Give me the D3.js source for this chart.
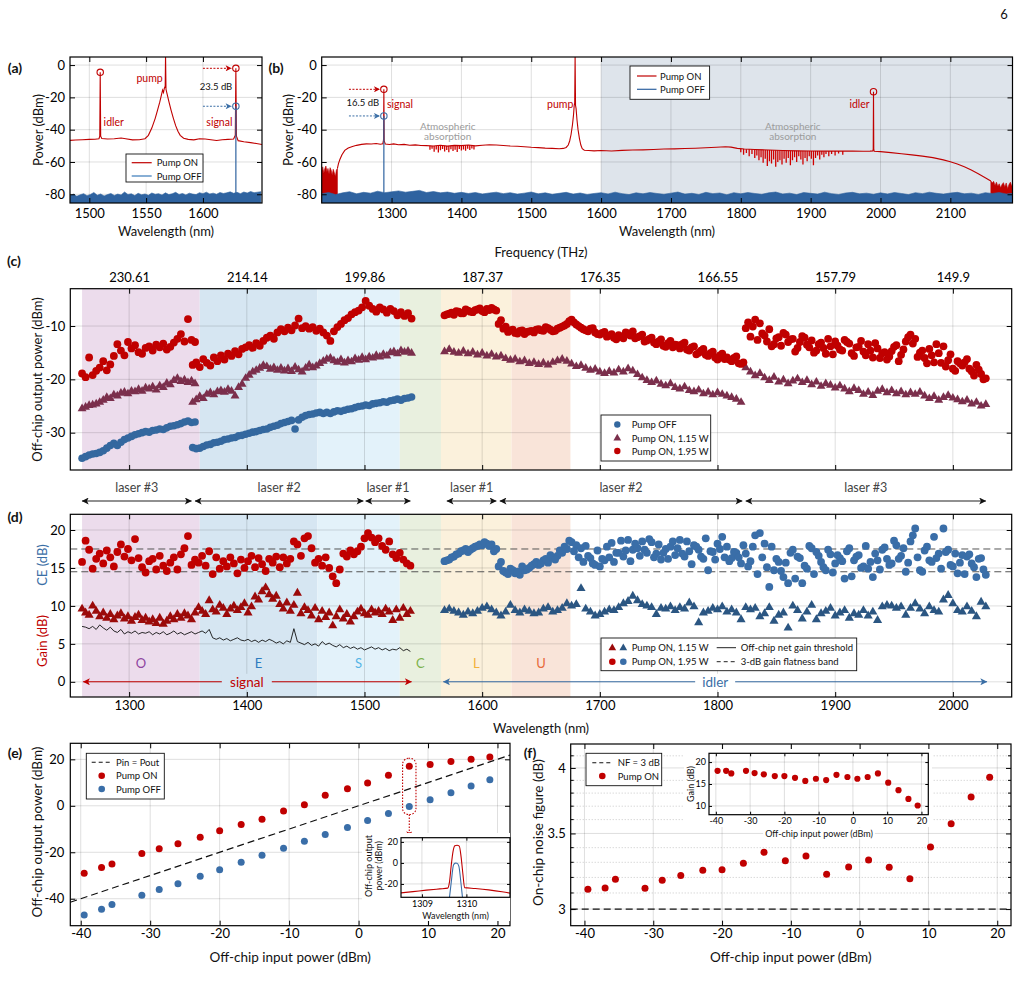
<!DOCTYPE html>
<html>
<head>
<meta charset="utf-8">
<script src="https://cdn.jsdelivr.net/npm/d3@7"></script>
<style>
  body { margin: 0; background: #fff; }
</style>
</head>
<body>
<script>
// ---------------- data ----------------
// (a) spectrum, pump ON [wavelength nm, dBm]
var specA_on = [[1483,-46.6],[1488,-46.4],[1494,-46.2],[1500,-46.0],[1505,-45.9],[1508.5,-45.6],[1509.2,-44.0],[1509.6,-4.5],[1510,-44.0],[1511,-45.5],[1516,-45.8],[1522,-45.6],[1528,-45.2],[1532,-45.6],[1538,-46.3],[1544,-46.2],[1549,-45.6],[1552,-43.5],[1555,-39],[1558,-33],[1560,-28],[1562,-23],[1563.5,-18.5],[1564.5,-15.5],[1565.3,-17],[1566,-14.5],[1566.8,-13],[1567.1,6],[1567.5,-15],[1568.5,-18],[1570,-22.5],[1572,-28],[1574,-33],[1576,-37.5],[1578,-41],[1580,-43.5],[1583,-45.3],[1587,-46],[1592,-46.3],[1597,-45.6],[1602,-45.8],[1607,-46.2],[1612,-46.7],[1617,-46.2],[1622,-46.0],[1627,-45.8],[1628.5,-43.5],[1629,-2],[1629.5,-44],[1631,-46.8],[1636,-47.5],[1642,-48.0],[1647,-48.6],[1652,-49.2]];
// (a) pump OFF noise floor, sampled every 3 nm from 1483 nm
var noiseA = [-80.8,-79.9,-81.2,-80.3,-79.6,-80.9,-80.1,-78.9,-80.6,-79.8,
  -81.0,-80.2,-79.5,-80.7,-79.9,-80.4,-78.6,-80.1,-79.7,-80.8,
  -79.4,-80.3,-79.8,-80.6,-79.2,-80.0,-79.6,-80.5,-79.1,-80.2,
  -79.7,-78.8,-80.1,-79.5,-80.4,-79.3,-79.9,-80.2,-79.0,-79.6,
  -78.7,-79.8,-79.3,-80.0,-78.9,-79.5,-79.1,-78.5,-79.4,-78.8,
  -79.6,-78.6,-79.2,-78.3,-79.0,-78.7,-78.4];
var noiseA_wl = d3.range(1483, 1653, 3);
var peaksA_on = [[1509.6, -4.5], [1629, -2]];
var peakA_off = [1629, -25.5];

// (b) spectrum, pump ON
var specB_on = [[1222.5,-64],[1224,-61],[1226,-58.5],[1229,-55.5],[1233,-52.8],[1238,-51.3],[1244,-50.4],[1250,-49.7],[1257,-49.1],[1264,-48.8],[1271,-48.9],[1278,-48.6],[1284,-49.0],[1287.5,-48.7],[1288.5,-46.5],[1289,-15],[1289.5,-47],[1291,-48.9],[1297,-49.2],[1303,-48.8],[1310,-49.3],[1318,-49.1],[1326,-49.6],[1334,-49.4],[1342,-49.8],[1350,-49.9],[1360,-50.1],[1370,-49.6],[1380,-50.2],[1390,-49.7],[1400,-49.9],[1410,-49.5],[1420,-50.0],[1430,-49.6],[1440,-49.3],[1450,-49.5],[1460,-49.8],[1470,-50.1],[1480,-50.3],[1490,-50.6],[1500,-50.9],[1510,-51.1],[1520,-51.4],[1530,-51.6],[1540,-51.8],[1546,-51.6],[1550,-51.0],[1553,-49.5],[1555,-47],[1557,-43],[1559,-37],[1560.5,-31],[1561.5,-25],[1562.2,-23.5],[1562.8,6],[1563.4,-25],[1564.2,-27],[1565.5,-34],[1567,-40],[1569,-45.5],[1571,-49.5],[1573,-51.8],[1576,-52.7],[1582,-52.9],[1590,-53.1],[1600,-52.9],[1615,-53.2],[1630,-52.8],[1645,-52.6],[1660,-52.5],[1675,-52.3],[1690,-52.0],[1705,-51.9],[1720,-51.7],[1735,-51.5],[1750,-51.2],[1765,-50.9],[1778,-50.6],[1786,-50.8],[1795,-51.6],[1805,-52.0],[1820,-52.3],[1840,-52.6],[1860,-52.9],[1880,-53.1],[1900,-53.2],[1920,-53.3],[1940,-53.2],[1960,-53.3],[1975,-53.4],[1985,-53.3],[1989,-53.2],[1989.6,-52],[1990,-16.5],[1990.4,-52],[1991,-53.4],[2000,-53.6],[2015,-54.2],[2030,-54.9],[2045,-55.6],[2060,-56.4],[2075,-57.3],[2090,-58.7],[2100,-59.8],[2110,-61.2],[2120,-63.0],[2130,-65.0],[2140,-67.3],[2150,-69.8],[2158,-71.8]];
// absorption fringes [wavelength, lowest dBm]
var dipsB = [[1355,-52.5],[1358,-51.8],[1361,-53.6],[1364,-52.2],[1367,-54.2],[1370,-52.8],[1373,-51.9],[1376,-53.5],[1379,-52.6],[1382,-53.9],[1385,-52.1],[1388,-53.2],[1391,-52.4],[1394,-53.8],[1397,-51.9],[1400,-52.9],[1403,-52.3],[1406,-53.1],[1409,-51.8],[1412,-52.6],[1415,-51.7],[1418,-52.2],
  [1800,-54],[1804,-55.5],[1808,-54.5],[1812,-56.5],[1816,-55],[1820,-57.5],[1823,-56],[1826,-59],[1829,-57],[1832,-60.5],[1835,-58],[1838,-62.5],[1841,-59.5],[1844,-61],[1847,-58.5],[1850,-63],[1853,-60],[1856,-59],[1859,-61.5],[1862,-58],[1865,-60.5],[1868,-57.5],[1871,-62],[1874,-59],[1877,-57],[1880,-60],[1883,-56.5],[1886,-58.5],[1889,-61.5],[1892,-57.5],[1895,-59.5],[1898,-56.5],[1901,-58],[1904,-62],[1907,-57.5],[1910,-56],[1913,-58.5],[1916,-55.5],[1919,-57],[1922,-55],[1926,-56.5],[1930,-55],[1935,-56],[1940,-54.8],[1946,-55.5]];
var redNoiseL = [[1200,-66],[1201.5,-63],[1203,-67],[1204.5,-64],[1206,-62.5],[1207.5,-66],[1209,-64],[1210.5,-67.5],[1212,-63.5],[1213.5,-65],[1215,-68],[1216.5,-64.5],[1218,-66.5],[1219.5,-69],[1221,-65],[1222.5,-64]];
var redNoiseR = [[2158,-71.8],[2160,-73],[2162,-72],[2164,-74.5],[2166,-72.5],[2168,-75],[2170,-73.5],[2172,-76],[2174,-74],[2176,-72.8],[2178,-75.5],[2180,-73],[2182,-76.5],[2184,-74],[2186,-72.5],[2188,-75],[2190,-73.5]];
// (b) pump OFF noise floor, every 10 nm from 1200 nm
var noiseB = [-79.6,-78.9,-80.2,-79.1,-78.4,-79.7,-78.8,-79.3,-78.1,-79.0,
  -78.5,-77.9,-78.7,-78.2,-77.6,-78.9,-78.3,-79.1,-78.6,-79.4,
  -78.8,-79.5,-78.9,-79.8,-79.2,-78.7,-79.6,-79.0,-79.9,-79.3,
  -78.6,-79.7,-79.1,-80.0,-79.4,-78.8,-79.9,-79.2,-80.1,-79.5,
  -79.0,-79.8,-78.7,-79.6,-80.2,-79.1,-79.7,-78.9,-79.5,-80.0,
  -79.3,-78.6,-79.9,-79.4,-80.1,-78.8,-79.6,-79.2,-80.3,-79.0,
  -79.7,-78.9,-79.5,-80.0,-79.1,-78.6,-79.8,-79.3,-80.2,-78.9,
  -79.4,-79.9,-78.7,-79.6,-80.1,-79.2,-78.8,-79.7,-79.3,-80.0,
  -79.1,-79.8,-78.9,-79.5,-80.2,-79.0,-79.6,-78.7,-79.4,-79.9,
  -79.2,-78.8,-79.7,-79.3,-80.1,-79.0,-79.5,-78.9,-79.8,-79.4];
var noiseB_wl = d3.range(1200, 2191, 10);
var peaksB_on = [[1289, -15], [1990, -16.5]];
var peakB_off = [1289, -31.5];

// (c)/(d) shared axis
var wlTicks = [1300, 1400, 1500, 1600, 1700, 1800, 1900, 2000];
var freqLabels = ["230.61", "214.14", "199.86", "187.37", "176.35", "166.55", "157.79", "149.9"];
var bandNames = ["O", "E", "S", "C", "L", "U"];
var bandEdges = [1260, 1360, 1460, 1530, 1565, 1625, 1675];
var laserNames = ["laser #3", "laser #2", "laser #1", "laser #1", "laser #2", "laser #3"];
var laserSpans = [[1260,1353],[1356,1499],[1501,1539],[1570,1612],[1615,1821],[1824,2028]];

// wavelength sampling grids
var sigWl1 = d3.range(1260, 1357, 3);
var sigWl2 = d3.range(1354, 1541, 3);
var sigWlD = d3.range(1260, 1540, 3);
var idlWl = d3.range(1568, 2029, 4);
var idlWlB = d3.range(1570, 2029, 4);

// (c) off-chip output power (dBm)
var cOff1 = [-34.8,-34.5,-34.2,-34.0,-33.9,-33.7,-33.4,-32.9,-32.4,-32.0,-32.4,-31.8,-31.3,-31.0,-30.7,-30.4,-30.2,-30.0,-29.8,-29.9,-29.6,-29.5,-29.3,-29.4,-29.1,-28.8,-28.7,-28.5,-28.3,-28.0,-27.8,-28.1,-28.0];
var cOff2 = [-32.8,-33.0,-32.9,-32.6,-32.3,-32.2,-31.9,-31.8,-31.6,-31.3,
  -31.2,-31.0,-30.9,-30.6,-30.5,-30.3,-30.1,-29.9,-29.8,-29.6,
  -29.4,-29.3,-29.0,-28.8,-28.6,-28.3,-28.1,-27.9,-27.7,-29.3,
  -27.6,-27.1,-26.8,-26.6,-26.5,-26.3,-26.2,-26.4,-26.2,-26.4,
  -26.1,-25.9,-26.0,-25.8,-25.6,-25.5,-25.3,-25.1,-25.0,-24.8,
  -24.9,-24.6,-24.5,-24.4,-24.2,-24.3,-24.0,-23.9,-23.7,-23.9,
  -23.6,-23.5,-23.3];
var cLow1 = [-25.5,-25.2,-24.9,-24.8,-24.6,-24.3,-23.9,-23.4,-23.6,-22.9,
  -23.1,-22.6,-22.4,-22.7,-22.2,-22.3,-21.9,-22.2,-21.6,-21.8,
  -21.4,-22.0,-21.2,-21.5,-20.7,-21.0,-20.2,-19.8,-20.4,-20.1,
  -20.6,-20.3,-20.8];
var cLow2 = [-24.3,-23.8,-23.2,-23.6,-22.8,-22.5,-22.9,-22.3,-22.1,-22.4,
  -21.9,-22.2,-23.1,-21.5,-20.9,-19.8,-19.2,-18.6,-18.3,-17.9,
  -17.4,-17.6,-18.1,-17.8,-18.3,-17.9,-18.4,-18.0,-18.5,-17.7,
  -18.2,-18.6,-17.9,-17.3,-17.8,-17.5,-17.0,-16.6,-16.2,-16.0,
  -16.5,-16.8,-16.3,-16.9,-16.5,-16.7,-16.1,-16.4,-15.9,-16.3,
  -15.8,-16.0,-15.5,-15.8,-15.3,-15.6,-15.0,-14.8,-15.2,-14.6,
  -14.9,-14.7,-15.1];
var cHigh1 = [-18.9,-19.6,-15.9,-19.2,-18.4,-17.8,-16.6,-18.3,-17.2,-15.6,
  -13.4,-14.6,-15.5,-13.0,-14.2,-13.6,-14.9,-15.2,-14.1,-13.8,
  -14.6,-13.5,-14.0,-13.3,-14.4,-13.9,-13.1,-12.4,-11.5,-12.9,
  -8.7,-12.6,-13.0];
var cHigh2 = [-17.3,-16.8,-17.7,-16.2,-16.9,-17.4,-15.9,-16.6,-15.5,-16.3,
  -15.2,-15.6,-14.7,-15.3,-14.3,-14.0,-13.6,-14.1,-13.2,-13.7,
  -12.8,-12.2,-11.8,-12.4,-11.2,-10.6,-11.0,-10.3,-10.8,-9.9,
  -8.6,-10.4,-10.0,-10.5,-10.2,-10.9,-10.5,-11.2,-11.8,-12.8,
  -11.0,-10.2,-9.6,-8.9,-8.5,-7.8,-7.4,-7.1,-6.5,-5.3,
  -6.2,-6.8,-7.3,-6.5,-6.9,-7.5,-6.8,-7.2,-8.0,-7.4,
  -8.1,-7.6,-8.6];
var cLowIdl = [-14.8,-14.4,-14.9,-15.1,-14.7,-15.2,-14.9,-15.4,-15.1,-15.6,
  -15.3,-15.8,-15.6,-16.1,-16.4,-16.2,-16.7,-16.5,-17.0,-16.8,
  -17.2,-16.9,-17.3,-16.8,-16.5,-16.2,-16.6,-17.1,-17.6,-17.4,
  -17.9,-18.3,-18.1,-18.6,-18.9,-18.5,-18.8,-18.2,-18.6,-18.0,
  -18.4,-19.1,-19.7,-20.2,-20.6,-20.3,-20.9,-21.2,-20.8,-21.5,
  -21.8,-21.4,-22.1,-22.3,-22.0,-22.7,-22.4,-22.9,-22.5,-22.8,
  -23.1,-23.4,-23.7,-24.3,-17.8,-18.6,-19.3,-18.9,-19.7,-20.2,
  -19.6,-20.5,-20.1,-20.8,-20.3,-19.9,-20.6,-20.2,-21.0,-20.5,
  -21.3,-20.8,-21.1,-21.6,-21.2,-21.8,-22.3,-21.7,-22.1,-22.8,
  -22.4,-23.0,-22.2,-21.9,-22.5,-22.1,-22.7,-22.3,-22.9,-22.5,
  -22.8,-22.4,-23.1,-23.6,-23.2,-23.9,-23.4,-23.0,-23.5,-23.8,
  -24.2,-23.9,-24.6,-24.3,-25.0,-24.7];
var cHighIdl = [-8.0,-7.7,-7.9,-7.3,-7.6,-7.1,-7.4,-6.9,-7.2,-6.8,
  -6.6,-7.1,-8.9,-10.1,-10.8,-11.3,-10.9,-11.5,-11.0,-11.2,
  -10.6,-10.9,-10.4,-11.0,-10.5,-10.1,-9.6,-8.8,-9.7,-10.3,
  -10.8,-10.5,-11.2,-11.6,-11.1,-11.8,-12.2,-11.7,-12.3,-11.4,
  -11.0,-12.1,-11.6,-12.7,-12.2,-13.4,-12.5,-13.9,-12.8,-13.5,
  -14.2,-13.1,-14.6,-13.8,-15.0,-14.3,-15.6,-14.8,-16.3,-15.2,
  -15.9,-16.6,-15.7,-17.1,-10.4,-12.0,-8.8,-9.5,-11.8,-10.6,
  -13.4,-12.1,-11.3,-13.0,-12.4,-14.1,-11.9,-13.5,-12.7,-14.6,
  -13.1,-15.2,-13.8,-12.9,-14.4,-12.6,-13.3,-15.6,-13.9,-14.8,
  -13.4,-15.9,-14.2,-15.1,-16.3,-14.7,-13.6,-15.4,-12.9,-11.6,
  -12.4,-15.0,-16.0,-14.3,-16.8,-15.1,-13.8,-16.4,-18.0,-16.6,
  -17.4,-16.2,-18.5,-17.3,-19.0,-19.8];
// second interleaved idler sweep (1570 nm onwards, 4 nm step)
var cHighIdlB = [-7.8,-7.5,-7.2,-7.6,-6.9,-7.3,-7.0,-6.7,-7.4,-7.0,
  -6.9,-9.6,-10.5,-11.1,-10.7,-11.4,-10.8,-11.1,-10.9,-10.7,
  -10.8,-10.2,-10.7,-10.9,-10.3,-9.9,-9.1,-9.3,-10.0,-10.6,
  -11.0,-10.4,-11.5,-11.3,-12.0,-11.5,-12.5,-12.0,-11.2,-11.8,
  -12.3,-11.9,-12.9,-12.4,-13.1,-12.9,-13.7,-13.2,-14.0,-13.6,
  -13.4,-14.4,-14.0,-15.3,-14.6,-15.4,-15.1,-15.9,-15.5,-16.2,
  -16.3,-16.0,-17.0,-16.8,-9.3,-10.1,-12.6,-11.4,-12.9,-13.8,
  -12.3,-13.7,-11.6,-12.5,-14.8,-13.0,-12.2,-14.0,-15.0,-13.4,
  -14.1,-12.4,-15.3,-13.7,-14.6,-13.0,-15.1,-14.0,-12.8,-15.5,
  -14.6,-13.2,-16.0,-14.9,-15.7,-13.9,-16.6,-14.4,-12.1,-13.3,
  -15.8,-14.6,-17.0,-15.5,-13.4,-16.9,-17.6,-15.3,-18.4,-17.0,
  -16.8,-18.0,-19.3,-18.2,-20.0];

// (d) CE / gain (dB)
var dSigCE = [15.8,18.6,17.4,14.9,16.2,16.9,15.6,17.3,16.4,15.2,
  17.1,18.1,16.5,17.5,16.0,18.8,16.3,15.1,14.4,15.9,
  16.2,14.8,16.6,15.3,14.6,15.7,16.4,14.8,16.8,17.6,
  19.2,15.4,16.1,15.7,16.6,15.3,17.2,14.2,16.4,14.9,
  15.9,15.2,16.4,15.6,14.3,16.1,15.0,15.9,16.6,15.1,
  16.3,15.5,14.6,16.2,15.7,16.5,15.1,16.4,15.6,16.2,
  18.5,18.1,16.6,18.9,19.2,17.6,15.7,16.2,15.3,16.4,
  15.0,13.9,13.0,14.8,16.9,16.5,17.3,16.8,17.2,17.8,
  18.9,19.6,19.0,18.4,18.9,17.9,17.4,18.5,16.8,16.3,
  17.0,16.1,15.6,15.3];
var dSigGain = [9.6,9.1,8.8,10.0,9.3,8.6,9.1,8.4,8.9,8.2,
  8.7,9.0,8.3,8.6,8.0,8.5,8.8,8.1,8.4,7.9,
  8.2,7.7,8.4,7.6,8.0,8.6,8.2,8.9,8.4,9.0,
  8.7,8.2,9.1,9.8,9.3,8.9,10.7,9.5,9.2,10.1,
  9.7,8.9,9.6,10.0,9.4,9.8,10.3,9.1,9.9,11.2,
  10.8,11.9,12.4,11.5,10.9,11.3,10.2,9.6,10.4,9.3,
  10.1,11.7,9.0,9.8,9.4,8.7,9.7,8.2,9.3,8.5,
  9.1,7.4,8.6,9.5,8.3,8.9,7.9,8.6,9.2,9.6,
  9.0,8.8,9.5,9.1,9.3,8.9,9.6,9.2,8.1,9.5,
  8.4,9.7,8.9,9.3];
var dThreshold = [7.3,7.2,7.0,7.3,6.9,7.5,7.1,6.8,7.2,6.7,
  6.5,6.9,6.3,6.6,6.4,6.7,6.3,6.5,6.4,6.6,
  6.2,6.5,6.3,6.6,6.2,6.4,6.7,6.3,6.5,6.2,
  6.4,6.6,6.3,6.5,6.7,6.4,6.9,5.8,5.6,5.8,
  5.5,5.7,5.4,5.6,5.8,5.5,5.4,5.6,5.3,5.5,
  5.2,5.5,5.3,5.6,5.4,5.1,5.3,5.0,5.4,5.2,
  7.0,5.3,5.1,4.9,5.2,4.8,5.0,4.7,5.3,4.9,
  5.1,4.8,4.6,4.9,4.5,4.7,4.4,4.6,4.3,4.5,
  4.2,4.4,4.6,4.3,4.5,4.2,4.4,4.1,4.3,4.2,
  4.5,4.1,4.3,4.0];
var dIdlCE = [15.9,16.1,16.5,16.9,17.3,17.1,17.6,17.9,18.0,18.2,
  18.1,17.5,15.8,14.4,14.9,14.3,14.1,14.7,15.0,15.5,
  15.4,16.0,15.7,16.3,16.6,17.0,17.5,18.4,18.0,17.6,
  17.9,16.3,15.4,15.2,16.0,16.4,15.8,17.0,16.5,18.7,
  17.4,17.6,18.5,17.0,18.4,16.9,16.1,17.5,17.8,16.7,
  18.7,16.5,17.2,18.0,17.4,16.2,14.7,17.1,18.2,19.1,
  17.8,16.3,17.0,15.6,16.9,15.9,19.3,19.6,18.2,12.5,
  14.7,15.8,13.8,13.0,17.4,16.5,13.0,14.9,17.6,17.1,
  15.8,14.7,16.8,15.6,16.3,13.6,17.6,16.0,16.7,15.2,
  14.9,13.8,16.0,17.4,16.2,15.6,18.0,16.6,14.5,18.5,
  20.2,14.7,17.3,16.0,19.1,16.9,20.2,17.4,15.2,14.3,
  16.7,16.5,15.6,13.8,16.3,14.1];
var dIdlCEB = [16.0,16.4,16.8,17.2,17.5,17.4,17.8,18.1,18.4,17.9,
  17.2,15.2,14.6,14.2,14.7,14.5,15.2,14.8,15.3,15.8,
  15.6,16.2,16.7,16.1,17.3,17.8,18.6,17.2,16.4,15.8,
  16.6,15.6,17.3,16.2,17.8,18.3,17.0,18.6,17.3,15.9,
  18.2,16.6,17.4,18.8,16.4,18.1,17.0,16.2,18.5,17.6,
  16.9,18.5,15.5,17.8,16.5,18.9,17.2,16.1,17.5,16.4,
  15.9,17.1,16.4,18.0,15.2,17.8,14.2,16.4,15.1,17.8,
  16.2,14.6,15.7,17.0,13.6,16.3,15.3,17.9,14.2,16.6,
  15.1,17.4,14.4,16.7,15.9,17.2,13.9,16.5,15.0,17.9,
  15.8,16.9,14.8,17.7,15.4,18.6,16.2,17.6,15.7,19.3,
  16.4,14.5,17.8,15.8,16.3,14.9,17.1,15.4,16.9,15.7,
  14.2,16.8,15.1,16.2,14.8];
var dIdlGain = [9.4,9.6,9.3,9.1,8.8,9.2,9.0,9.3,9.7,9.9,
  9.5,9.1,8.7,9.2,10.1,9.4,9.1,9.5,9.3,9.0,
  9.1,9.6,9.8,9.2,9.4,9.7,10.3,10.0,10.2,12.3,
  9.6,9.2,8.7,8.9,9.2,9.5,9.4,9.8,10.3,10.6,
  11.3,10.7,10.2,10.0,9.8,8.9,9.7,9.6,9.9,9.4,
  9.8,9.6,10.4,9.9,7.8,9.1,9.3,9.7,9.5,9.9,
  9.2,9.5,9.1,8.2,9.8,9.5,9.7,8.6,9.0,9.8,
  8.0,8.8,9.1,7.1,10.0,9.4,8.3,9.2,10.1,8.2,
  9.0,9.3,9.7,8.7,9.1,9.4,8.4,9.0,8.8,9.4,
  8.7,9.2,8.1,9.9,10.1,10.0,9.7,9.9,8.8,9.7,
  10.3,9.6,9.0,9.9,9.4,9.2,10.8,11.4,10.3,9.4,
  9.2,9.9,9.3,8.6,10.5,9.9];
var flatBand = [14.5, 17.5];

// (e)/(f) power sweep
var pin = [-39.5,-37,-35.5,-31.2,-28.7,-26,-22.8,-20,-16.9,-13.9,-10.8,-7.8,-4.8,-1.6,1.3,4.3,7.3,10.3,13.3,16.2,18.9];
var poutOn = [-29,-26.5,-25,-20.5,-18.5,-16.3,-13.5,-10.7,-8,-5.8,-2.2,0.4,4.5,7.3,9.8,13.2,17,17.8,19.1,20,21];
var poutOff = [-47,-44.5,-42.5,-38.5,-36,-33.5,-30.3,-27.5,-24.3,-21.3,-18.3,-15.3,-12.3,-9.3,-6.3,-3.3,-0.3,2.6,5.6,8.5,11.2];
var nfOn = [3.124,3.132,3.188,3.13,3.182,3.212,3.247,3.25,3.294,3.368,3.311,3.343,3.22,3.268,3.316,3.267,3.192,3.405,3.57,3.77,3.925];
var gainOn = [18.0,18.0,17.4,18.0,17.5,17.2,16.8,16.8,16.4,15.7,16.2,15.9,17.1,16.6,16.2,16.6,17.4,15.3,13.6,11.6,10.1];
var zoomIndex = 16;
// (e) inset spectra at Pin = 7.3 dBm
var insetOn = [[1308.5,-28.6],[1308.8,-27.3],[1309.1,-25.9],[1309.4,-24.7],[1309.58,-24.0],[1309.62,-18],[1309.66,-2],[1309.7,11],[1309.74,16.3],[1309.79,16.8],[1309.84,16.0],[1309.88,6],[1309.92,-10],[1309.96,-23.5],[1310.2,-24.3],[1310.5,-25.6],[1310.8,-27.4],[1311,-28.9]];
var insetOff = [[1309.6,-40],[1309.66,-18],[1309.71,-2],[1309.75,-0.2],[1309.79,-0.3],[1309.83,-3],[1309.88,-20],[1309.93,-40]];

// ---------------- drawing ----------------
var FONT = "Lato, 'Open Sans', sans-serif";
var RED = "#c00000", BLUE = "#2f63a0";
var svg = d3.select("body").append("svg").attr("width", 1023).attr("height", 1001)
  .style("font-family", FONT);
svg.append("rect").attr("width", 1023).attr("height", 1001).attr("fill", "#fff");
var defs = svg.append("defs");
var clipN = 0;

function arrowMarker(id, color, w, h) {
  defs.append("marker").attr("id", id)
    .attr("viewBox", "0 0 10 10").attr("refX", 9.5).attr("refY", 5)
    .attr("markerUnits", "userSpaceOnUse")
    .attr("markerWidth", w).attr("markerHeight", h)
    .attr("orient", "auto-start-reverse")
    .append("path").attr("d", "M0,0L10,5L0,10L2.5,5z").attr("fill", color);
}
arrowMarker("arK", "#111", 9, 7);
arrowMarker("arR", RED, 9, 7);
arrowMarker("arB", "#3a6ea5", 9, 7);
arrowMarker("arR2", RED, 8, 6);
arrowMarker("arB2", "#3a6ea5", 8, 6);

function panel(P, xDom, yDom, log) {
  var x = d3.scaleLinear().domain(xDom).range([P.l, P.r]);
  var y = (log ? d3.scaleLog() : d3.scaleLinear()).domain(yDom).range([P.b, P.t]);
  var id = "clip" + (clipN++);
  defs.append("clipPath").attr("id", id).append("rect")
    .attr("x", P.l).attr("y", P.t).attr("width", P.r - P.l).attr("height", P.b - P.t);
  var back = svg.append("g");
  var plot = svg.append("g").attr("clip-path", "url(#" + id + ")");
  var front = svg.append("g");
  return {x: x, y: y, P: P, back: back, plot: plot, front: front};
}

function grid(ax, xt, yt, dash) {
  ax.back.append("g").selectAll("line").data(xt).join("line")
    .attr("x1", d => ax.x(d)).attr("x2", d => ax.x(d)).attr("y1", ax.P.t).attr("y2", ax.P.b)
    .attr("stroke", "#000").attr("stroke-opacity", 0.13);
  ax.back.append("g").selectAll("line").data(yt).join("line")
    .attr("y1", d => ax.y(d)).attr("y2", d => ax.y(d)).attr("x1", ax.P.l).attr("x2", ax.P.r)
    .attr("stroke", "#000").attr("stroke-opacity", 0.13)
    .attr("stroke-dasharray", dash || null);
}

function frame(ax, xt, yt, o) {
  o = o || {};
  var tl = o.tick || 5, fs = o.fs || 13;
  var fmt = d => String(d);
  var none = () => "";
  var P = ax.P, g = ax.front;
  function style(sel) {
    sel.attr("font-family", FONT).attr("font-size", fs);
    sel.select(".domain").remove();
  }
  g.append("g").attr("transform", "translate(0," + P.b + ")")
    .call(d3.axisBottom(ax.x).tickValues(xt).tickSizeInner(-tl).tickSizeOuter(0)
      .tickPadding(o.xpad == null ? 6 : o.xpad).tickFormat(o.noX ? none : (o.xfmt || fmt))).call(style);
  g.append("g").attr("transform", "translate(0," + P.t + ")")
    .call(d3.axisTop(ax.x).tickValues(xt).tickSizeInner(-tl).tickSizeOuter(0)
      .tickPadding(o.tpad || 6).tickFormat(o.topFmt || none)).call(style);
  g.append("g").attr("transform", "translate(" + P.l + ",0)")
    .call(d3.axisLeft(ax.y).tickValues(yt).tickSizeInner(-tl).tickSizeOuter(0)
      .tickPadding(o.ypad == null ? 5 : o.ypad).tickFormat(o.yfmt || fmt)).call(style);
  g.append("g").attr("transform", "translate(" + P.r + ",0)")
    .call(d3.axisRight(ax.y).tickValues(yt).tickSizeInner(-tl).tickSizeOuter(0).tickFormat(none)).call(style);
  g.append("rect").attr("x", P.l).attr("y", P.t).attr("width", P.r - P.l).attr("height", P.b - P.t)
    .attr("fill", "none").attr("stroke", "#000").attr("stroke-width", 1.2);
}

function txt(g, x, y, s, o) {
  o = o || {};
  return g.append("text").attr("x", x).attr("y", y).text(s)
    .attr("font-size", o.fs || 13).attr("fill", o.fill || "#111")
    .attr("text-anchor", o.anchor || "middle").attr("dominant-baseline", "central")
    .attr("font-weight", o.bold ? 700 : null)
    .attr("transform", o.rot ? "rotate(-90," + x + "," + y + ")" : null);
}

function scatter(ax, xs, ys, kind, color, sz) {
  var pts = d3.zip(xs, ys);
  var g = ax.plot.append("g");
  if (kind === "circle") {
    g.selectAll("circle").data(pts).join("circle")
      .attr("cx", d => ax.x(d[0])).attr("cy", d => ax.y(d[1])).attr("r", sz).attr("fill", color);
  } else {
    g.selectAll("path").data(pts).join("path")
      .attr("transform", d => "translate(" + ax.x(d[0]) + "," + ax.y(d[1]) + ")")
      .attr("d", d3.symbol(d3.symbolTriangle, sz)).attr("fill", color);
  }
}

function legendMark(g, kind, x, y, color, sz) {
  if (kind === "circle") g.append("circle").attr("cx", x).attr("cy", y).attr("r", sz).attr("fill", color);
  else g.append("path").attr("transform", "translate(" + x + "," + y + ")")
    .attr("d", d3.symbol(d3.symbolTriangle, sz)).attr("fill", color);
}

function legendBox(g, x0, y0, x1, y1) {
  g.append("rect").attr("x", x0).attr("y", y0).attr("width", x1 - x0).attr("height", y1 - y0)
    .attr("fill", "#fff").attr("stroke", "#111").attr("stroke-width", 0.9);
}

function hline(g, x0, x1, y, color, dash, w) {
  g.append("line").attr("x1", x0).attr("x2", x1).attr("y1", y).attr("y2", y)
    .attr("stroke", color).attr("stroke-width", w || 1.2).attr("stroke-dasharray", dash || null);
}

// page number
txt(svg, 1004, 14, "6", {fs: 13});

// ===== (a) =====
var A = panel({l: 70, r: 262, t: 57, b: 203}, [1483, 1652], [-85.4, 5]);
grid(A, [1500, 1550, 1600], [0, -20, -40, -60, -80]);
var lineA = d3.line().x(d => A.x(d[0])).y(d => A.y(d[1]));
A.plot.append("path").attr("d", lineA(specA_on)).attr("fill", "none").attr("stroke", RED).attr("stroke-width", 1.1);
A.plot.append("path")
  .attr("d", d3.area().x((d, i) => A.x(noiseA_wl[i])).y0(A.P.b).y1(d => A.y(d))(noiseA))
  .attr("fill", BLUE).attr("stroke", BLUE).attr("stroke-width", 0.6);
A.plot.append("line").attr("x1", A.x(peakA_off[0])).attr("x2", A.x(peakA_off[0]))
  .attr("y1", A.y(-80)).attr("y2", A.y(peakA_off[1])).attr("stroke", BLUE).attr("stroke-width", 1.2);
A.front.selectAll(null).data(peaksA_on).join("circle")
  .attr("cx", d => A.x(d[0])).attr("cy", d => A.y(d[1])).attr("r", 3.2)
  .attr("fill", "none").attr("stroke", RED).attr("stroke-width", 1.1);
A.front.append("circle").attr("cx", A.x(peakA_off[0])).attr("cy", A.y(peakA_off[1])).attr("r", 3.2)
  .attr("fill", "none").attr("stroke", "#3a6ea5").attr("stroke-width", 1.1);
frame(A, [1500, 1550, 1600], [0, -20, -40, -60, -80], {xpad: 6});
A.front.append("line").attr("x1", A.x(1600)).attr("x2", A.x(1625)).attr("y1", A.y(-2)).attr("y2", A.y(-2))
  .attr("stroke", RED).attr("stroke-dasharray", "2,1.5").attr("marker-end", "url(#arR2)");
A.front.append("line").attr("x1", A.x(1600)).attr("x2", A.x(1625)).attr("y1", A.y(-25.5)).attr("y2", A.y(-25.5))
  .attr("stroke", "#3a6ea5").attr("stroke-dasharray", "2,1.5").attr("marker-end", "url(#arB2)");
txt(A.front, A.x(1611.5), A.y(-13.4), "23.5 dB", {fs: 9.5});
txt(A.front, A.x(1553), A.y(-8), "pump", {fs: 10.5, fill: RED});
txt(A.front, A.x(1521.5), A.y(-35.2), "idler", {fs: 10.5, fill: RED});
txt(A.front, A.x(1614.5), A.y(-35.2), "signal", {fs: 10.5, fill: RED});
legendBox(A.front, 126, 154, 203, 182);
hline(A.front, 131.7, 151.7, 162.7, RED, null, 1.2);
hline(A.front, 131.7, 151.7, 176, "#6b9ccb", null, 1.6);
txt(A.front, 156.7, 162.7, "Pump ON", {fs: 9.5, anchor: "start"});
txt(A.front, 156.7, 176, "Pump OFF", {fs: 9.5, anchor: "start"});
txt(svg, 166, 231, "Wavelength (nm)");
txt(svg, 38, 130, "Power (dBm)", {rot: true});
txt(svg, 15, 67, "(a)", {fs: 14, bold: true});

// ===== (b) =====
var B = panel({l: 321.7, r: 1012.5, t: 57, b: 203}, [1200, 2189], [-85.4, 5]);
B.back.append("rect").attr("x", B.x(1600)).attr("y", B.P.t).attr("width", B.P.r - B.x(1600)).attr("height", B.P.b - B.P.t)
  .attr("fill", "#dee4eb");
grid(B, d3.range(1300, 2101, 100), [0, -20, -40, -60, -80]);
var lineB = d3.line().x(d => B.x(d[0])).y(d => B.y(d[1]));
var areaB = d3.area().x(d => B.x(d[0])).y0(B.P.b).y1(d => B.y(d[1]));
B.plot.append("path").attr("d", areaB(redNoiseL)).attr("fill", RED).attr("stroke", RED).attr("stroke-width", 0.6);
B.plot.append("path").attr("d", areaB(redNoiseR)).attr("fill", RED).attr("stroke", RED).attr("stroke-width", 0.6);
var bis = d3.bisector(d => d[0]).left;
function specAt(spec, w) {
  var i = bis(spec, w), a = spec[i - 1], b = spec[i];
  return a[1] + (b[1] - a[1]) * (w - a[0]) / (b[0] - a[0]);
}
B.plot.append("g").selectAll("line").data(dipsB).join("line")
  .attr("x1", d => B.x(d[0])).attr("x2", d => B.x(d[0]))
  .attr("y1", d => B.y(specAt(specB_on, d[0]))).attr("y2", d => B.y(d[1]))
  .attr("stroke", "#d00000").attr("stroke-width", 1.3);
B.plot.append("path").attr("d", lineB(specB_on)).attr("fill", "none").attr("stroke", RED).attr("stroke-width", 1.1);
B.plot.append("path")
  .attr("d", d3.area().x((d, i) => B.x(noiseB_wl[i])).y0(B.P.b).y1(d => B.y(d))(noiseB))
  .attr("fill", BLUE).attr("stroke", BLUE).attr("stroke-width", 0.6);
B.plot.append("line").attr("x1", B.x(peakB_off[0])).attr("x2", B.x(peakB_off[0]))
  .attr("y1", B.y(-80)).attr("y2", B.y(peakB_off[1])).attr("stroke", BLUE).attr("stroke-width", 1.2);
B.front.selectAll(null).data(peaksB_on).join("circle")
  .attr("cx", d => B.x(d[0])).attr("cy", d => B.y(d[1])).attr("r", 3.2)
  .attr("fill", "none").attr("stroke", RED).attr("stroke-width", 1.1);
B.front.append("circle").attr("cx", B.x(peakB_off[0])).attr("cy", B.y(peakB_off[1])).attr("r", 3.2)
  .attr("fill", "none").attr("stroke", "#3a6ea5").attr("stroke-width", 1.1);
frame(B, d3.range(1300, 2101, 100), [0, -20, -40, -60, -80], {xpad: 6});
B.front.append("line").attr("x1", B.x(1239)).attr("x2", B.x(1283)).attr("y1", B.y(-15)).attr("y2", B.y(-15))
  .attr("stroke", RED).attr("stroke-dasharray", "2,1.5").attr("marker-end", "url(#arR2)");
B.front.append("line").attr("x1", B.x(1239)).attr("x2", B.x(1283)).attr("y1", B.y(-31.5)).attr("y2", B.y(-31.5))
  .attr("stroke", "#3a6ea5").attr("stroke-dasharray", "2,1.5").attr("marker-end", "url(#arB2)");
txt(B.front, B.x(1259), B.y(-23.3), "16.5 dB", {fs: 9.5});
txt(B.front, B.x(1312), B.y(-24.3), "signal", {fs: 10.5, fill: RED});
txt(B.front, B.x(1541.5), B.y(-24.3), "pump", {fs: 10.5, fill: RED});
txt(B.front, B.x(1970), B.y(-24.3), "idler", {fs: 10.5, fill: RED});
[1380.4, 1874.5].forEach(function (w) {
  txt(B.front, B.x(w), B.y(-37.8), "Atmospheric", {fs: 10, fill: "#9c9c9c"});
  txt(B.front, B.x(w), B.y(-44.2), "absorption", {fs: 10, fill: "#9c9c9c"});
});
legendBox(B.front, 630, 66, 709.6, 99.3);
hline(B.front, 637, 656.5, 76, RED, null, 1.2);
hline(B.front, 637, 656.5, 89.3, BLUE, null, 1.2);
txt(B.front, 660, 76, "Pump ON", {fs: 9.5, anchor: "start"});
txt(B.front, 660, 89.3, "Pump OFF", {fs: 9.5, anchor: "start"});
txt(svg, 667, 231, "Wavelength (nm)");
txt(svg, 288, 130, "Power (dBm)", {rot: true});
txt(svg, 276, 67, "(b)", {fs: 14, bold: true});

// band shading helper for (c) and (d)
var bandFill = ["#ecdcec", "#d6e6f2", "#e3f2fa", "#e9f0df", "#fbf1dc", "#f9e4d9"];
var bandText = ["#8e44a0", "#2c7bbf", "#55b5e6", "#7cb24c", "#f2b23a", "#e8693a"];
function shadeBands(ax) {
  ax.back.append("g").selectAll("rect").data(bandNames).join("rect")
    .attr("x", (d, i) => ax.x(bandEdges[i])).attr("width", (d, i) => ax.x(bandEdges[i + 1]) - ax.x(bandEdges[i]))
    .attr("y", ax.P.t).attr("height", ax.P.b - ax.P.t)
    .attr("fill", (d, i) => bandFill[i]);
}

// ===== (c) =====
var C = panel({l: 70.3, r: 1011.7, t: 288.7, b: 470}, [1250, 2050], [-37, -3]);
shadeBands(C);
grid(C, wlTicks, [-30, -20, -10]);
var PURP = "#7b2f4c", BLUEC = "#34689f";
scatter(C, sigWl1, cOff1, "circle", BLUEC, 3.8);
scatter(C, sigWl2, cOff2, "circle", BLUEC, 3.8);
scatter(C, sigWl1, cLow1, "tri", PURP, 34);
scatter(C, sigWl2, cLow2, "tri", PURP, 34);
scatter(C, idlWl, cLowIdl, "tri", PURP, 34);
scatter(C, sigWl1, cHigh1, "circle", RED, 3.9);
scatter(C, sigWl2, cHigh2, "circle", RED, 3.9);
scatter(C, idlWl, cHighIdl, "circle", RED, 3.9);
scatter(C, idlWlB, cHighIdlB, "circle", RED, 3.9);
frame(C, wlTicks, [-30, -20, -10], {noX: true, tpad: 7, topFmt: (d, i) => freqLabels[i]});
legendBox(C.front, 601, 415, 710.7, 461);
legendMark(C.front, "circle", 617.3, 424.5, BLUEC, 3.2);
legendMark(C.front, "tri", 617.3, 438.3, PURP, 26);
legendMark(C.front, "circle", 617.3, 451, RED, 3.2);
txt(C.front, 631.7, 424.5, "Pump OFF", {fs: 9.5, anchor: "start"});
txt(C.front, 631.7, 438.3, "Pump ON, 1.15 W", {fs: 9.5, anchor: "start"});
txt(C.front, 631.7, 451, "Pump ON, 1.95 W", {fs: 9.5, anchor: "start"});
txt(svg, 541, 252, "Frequency (THz)");
txt(svg, 37.3, 379.5, "Off-chip output power (dBm)", {rot: true});
txt(svg, 14, 260, "(c)", {fs: 14, bold: true});

// ===== (d) =====
var D = panel({l: 70.3, r: 1011.7, t: 514.3, b: 697}, [1250, 2050], [-2, 22.07]);
shadeBands(D);
grid(D, wlTicks, [0, 5, 10, 15, 20]);
var DRED_T = "#9b0a0a", DBLUE_C = "#3a6ea8", DBLUE_T = "#2b5682";
D.plot.selectAll(null).data(flatBand).join("line")
  .attr("x1", D.P.l).attr("x2", D.P.r).attr("y1", d => D.y(d)).attr("y2", d => D.y(d))
  .attr("stroke", "#555").attr("stroke-width", 1).attr("stroke-dasharray", "7,4");
D.plot.append("path").attr("d", d3.line().x(d => D.x(d[0])).y(d => D.y(d[1]))(d3.zip(sigWlD, dThreshold)))
  .attr("fill", "none").attr("stroke", "#111").attr("stroke-width", 0.9);
scatter(D, sigWlD, dSigGain, "tri", DRED_T, 36);
scatter(D, idlWl, dIdlGain, "tri", DBLUE_T, 36);
scatter(D, sigWlD, dSigCE, "circle", RED, 3.9);
scatter(D, idlWl, dIdlCE, "circle", DBLUE_C, 3.9);
scatter(D, idlWlB, dIdlCEB, "circle", DBLUE_C, 3.9);
// band letters
D.back.append("g").selectAll("text").data(bandNames).join("text")
  .attr("x", (d, i) => D.x((bandEdges[i] + bandEdges[i + 1]) / 2)).attr("y", D.y(2.45))
  .attr("text-anchor", "middle").attr("dominant-baseline", "central").attr("font-size", 13)
  .attr("fill", (d, i) => bandText[i]).text(d => d);
// signal / idler arrows
D.front.append("line").attr("x1", D.x(1261)).attr("x2", D.x(1540)).attr("y1", D.y(0)).attr("y2", D.y(0))
  .attr("stroke", RED).attr("stroke-width", 1.1).attr("marker-start", "url(#arR)").attr("marker-end", "url(#arR)");
D.front.append("rect").attr("x", D.x(1400) - 25).attr("y", D.y(0) - 8).attr("width", 50).attr("height", 16).attr("fill", "#d6e6f2");
txt(D.front, D.x(1400), D.y(0), "signal", {fs: 13.5, fill: RED});
D.front.append("line").attr("x1", D.x(1567)).attr("x2", D.x(2029)).attr("y1", D.y(0)).attr("y2", D.y(0))
  .attr("stroke", "#3a6ea5").attr("stroke-width", 1.1).attr("marker-start", "url(#arB)").attr("marker-end", "url(#arB)");
D.front.append("rect").attr("x", D.x(1798) - 20).attr("y", D.y(0) - 8).attr("width", 40).attr("height", 16).attr("fill", "#fff");
txt(D.front, D.x(1798), D.y(0), "idler", {fs: 13.5, fill: "#3a6ea5"});
frame(D, wlTicks, [0, 5, 10, 15, 20], {xpad: 4});
// laser spans above (d)
laserSpans.forEach(function (s, i) {
  svg.append("line").attr("x1", D.x(s[0])).attr("x2", D.x(s[1])).attr("y1", 501).attr("y2", 501)
    .attr("stroke", "#222").attr("stroke-width", 1.1)
    .attr("marker-start", "url(#arK)").attr("marker-end", "url(#arK)");
  txt(svg, D.x((s[0] + s[1]) / 2), 487, laserNames[i], {fs: 12.5, fill: "#444"});
});
legendBox(D.front, 601, 638, 856.7, 670.7);
legendMark(D.front, "tri", 612.3, 648, DRED_T, 26);
legendMark(D.front, "tri", 623.3, 648, DBLUE_T, 26);
legendMark(D.front, "circle", 612.3, 661.7, RED, 3.3);
legendMark(D.front, "circle", 623.3, 661.7, DBLUE_C, 3.3);
txt(D.front, 631.7, 647.7, "Pump ON, 1.15 W", {fs: 9.5, anchor: "start"});
txt(D.front, 631.7, 661.7, "Pump ON, 1.95 W", {fs: 9.5, anchor: "start"});
hline(D.front, 716.7, 736, 647.7, "#222", null, 1);
hline(D.front, 716.7, 736, 661.7, "#222", "4,3", 1);
txt(D.front, 740.7, 647.7, "Off-chip net gain threshold", {fs: 9.5, anchor: "start"});
txt(D.front, 740.7, 661.7, "3-dB gain flatness band", {fs: 9.5, anchor: "start"});
txt(svg, 541, 728, "Wavelength (nm)");
txt(svg, 42.3, 565, "CE (dB)", {rot: true, fill: "#3a6ea5"});
txt(svg, 42.3, 641, "Gain (dB)", {rot: true, fill: RED});
txt(svg, 15, 516, "(d)", {fs: 14, bold: true});

// ===== (e) =====
var E = panel({l: 70.3, r: 510, t: 743.3, b: 925.7}, [-41.5, 21.8], [-51.6, 26.9]);
var eX = [-40, -30, -20, -10, 0, 10, 20], eY = [-40, -20, 0, 20];
grid(E, eX, eY);
E.plot.append("line").attr("x1", E.x(-41.5)).attr("y1", E.y(-41.5)).attr("x2", E.x(21.8)).attr("y2", E.y(21.8))
  .attr("stroke", "#111").attr("stroke-width", 1.2).attr("stroke-dasharray", "7,4");
scatter(E, pin, poutOn, "circle", RED, 3.5);
scatter(E, pin, poutOff, "circle", "#3a6ea8", 3.5);
frame(E, eX, eY, {xpad: 3, ypad: 6});
E.front.append("rect").attr("x", E.x(pin[zoomIndex]) - 6.7).attr("y", E.y(poutOn[zoomIndex]) - 8)
  .attr("width", 13.4).attr("height", E.y(poutOff[zoomIndex]) - E.y(poutOn[zoomIndex]) + 16)
  .attr("rx", 6).attr("fill", "none").attr("stroke", RED).attr("stroke-width", 1.1).attr("stroke-dasharray", "1.5,1.5");
E.front.append("line").attr("x1", E.x(pin[zoomIndex])).attr("x2", E.x(pin[zoomIndex]))
  .attr("y1", E.y(poutOff[zoomIndex]) + 8).attr("y2", 837)
  .attr("stroke", RED).attr("stroke-width", 1.1).attr("stroke-dasharray", "1.5,1.5").attr("marker-end", "url(#arR2)");
legendBox(E.front, 86.3, 753.3, 164.3, 799);
hline(E.front, 91.7, 111.7, 762.3, "#111", "4,3", 1.1);
legendMark(E.front, "circle", 101.7, 775.7, RED, 3.3);
legendMark(E.front, "circle", 101.7, 789, "#3a6ea8", 3.3);
txt(E.front, 116, 762.3, "Pin = Pout", {fs: 9.5, anchor: "start"});
txt(E.front, 116, 775.7, "Pump ON", {fs: 9.5, anchor: "start"});
txt(E.front, 116, 789, "Pump OFF", {fs: 9.5, anchor: "start"});
txt(svg, 290.2, 957.3, "Off-chip input power (dBm)", {fs: 13.5});
txt(svg, 37.3, 832, "Off-chip output power (dBm)", {rot: true, fs: 13.5});
txt(svg, 15, 752, "(e)", {fs: 14, bold: true});

// (e) inset
svg.append("rect").attr("x", 362).attr("y", 833).attr("width", 148).attr("height", 88).attr("fill", "#fff");
var EI = panel({l: 401, r: 510, t: 837.7, b: 897.3}, [1308.53, 1310.98], [-32.7, 24]);
EI.back.append("rect").attr("x", 401).attr("y", 837.7).attr("width", 109).attr("height", 59.6).attr("fill", "#fff");
grid(EI, [1309, 1310], [-20, 0, 20]);
var lineEI = d3.line().x(d => EI.x(d[0])).y(d => EI.y(d[1])).curve(d3.curveMonotoneX);
EI.plot.append("path").attr("d", lineEI(insetOn)).attr("fill", "none").attr("stroke", RED).attr("stroke-width", 1.1);
EI.plot.append("path").attr("d", lineEI(insetOff)).attr("fill", "none").attr("stroke", "#3a6ea8").attr("stroke-width", 1.1);
frame(EI, [1309, 1310], [-20, 0, 20], {tick: 3, fs: 9, xpad: 3, ypad: 3});
txt(svg, 455.5, 915.5, "Wavelength (nm)", {fs: 9});
txt(svg, 368, 866, "Off-chip output", {fs: 9, rot: true});
txt(svg, 378.5, 866, "power (dBm)", {fs: 9, rot: true});

// ===== (f) =====
var F = panel({l: 570.7, r: 1011, t: 744, b: 925.7}, [-42, 22], [2.9, 4.2], true);
var fX = [-40, -30, -20, -10, 0, 10, 20], fY = [3, 3.5, 4];
var fMinor = [3.1, 3.2, 3.3, 3.4, 3.6, 3.7, 3.8, 3.9, 4.1];
grid(F, fX, fY);
F.back.append("g").selectAll("line").data(fMinor).join("line")
  .attr("x1", F.P.l).attr("x2", F.P.r).attr("y1", d => F.y(d)).attr("y2", d => F.y(d))
  .attr("stroke", "#000").attr("stroke-opacity", 0.22).attr("stroke-dasharray", "1,2");
F.plot.append("line").attr("x1", F.P.l).attr("x2", F.P.r).attr("y1", F.y(3)).attr("y2", F.y(3))
  .attr("stroke", "#111").attr("stroke-width", 1.2).attr("stroke-dasharray", "7,4");
scatter(F, pin, nfOn, "circle", RED, 3.5);
frame(F, fX, fY, {xpad: 3, ypad: 5});
F.front.append("g").selectAll("line").data(fMinor).join("line")
  .attr("x1", F.P.l).attr("x2", F.P.l + 3).attr("y1", d => F.y(d)).attr("y2", d => F.y(d)).attr("stroke", "#000");
F.front.append("g").selectAll("line").data(fMinor).join("line")
  .attr("x1", F.P.r).attr("x2", F.P.r - 3).attr("y1", d => F.y(d)).attr("y2", d => F.y(d)).attr("stroke", "#000");
legendBox(F.front, 586, 753.3, 661.7, 785.7);
hline(F.front, 592.3, 612.3, 762.7, "#111", "4,3", 1.1);
legendMark(F.front, "circle", 602.3, 776, RED, 3.3);
txt(F.front, 617.7, 762.7, "NF = 3 dB", {fs: 9.5, anchor: "start"});
txt(F.front, 617.7, 776, "Pump ON", {fs: 9.5, anchor: "start"});
txt(svg, 790.8, 957.3, "Off-chip input power (dBm)", {fs: 13.5});
txt(svg, 538.3, 832.5, "On-chip noise figure (dB)", {rot: true, fs: 13.5});
txt(svg, 530, 752, "(f)", {fs: 14, bold: true});

// (f) inset
svg.append("rect").attr("x", 684).attr("y", 749).attr("width", 248).attr("height", 78).attr("fill", "#fff");
var FI = panel({l: 709, r: 928.3, t: 753.3, b: 814.7}, [-42, 22], [8, 22]);
grid(FI, fX, [10, 15, 20]);
scatter(FI, pin, gainOn, "circle", RED, 3.1);
frame(FI, fX, [10, 15, 20], {tick: 3, fs: 9, xpad: 3, ypad: 3});
var fiBg = svg.append("rect").attr("fill", "#fff");
var fiTitle = txt(svg, 819, 833.3, "Off-chip input power (dBm)", {fs: 9});
var bb = fiTitle.node().getBBox();
fiBg.attr("x", bb.x - 2).attr("y", bb.y).attr("width", bb.width + 4).attr("height", bb.height);
txt(svg, 690, 784, "Gain (dB)", {fs: 9, rot: true});
</script>
</body>
</html>
